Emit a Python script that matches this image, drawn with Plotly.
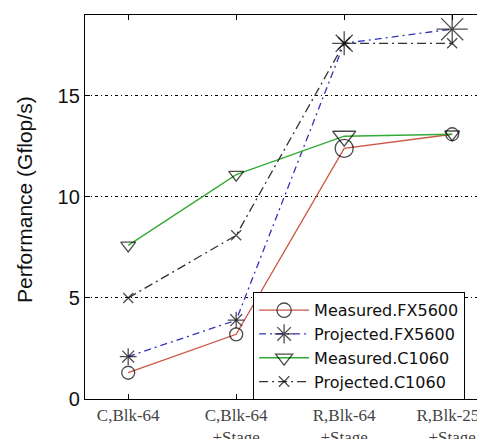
import plotly.graph_objects as go

categories = ["C,Blk-64", "C,Blk-64<br>+Stage", "R,Blk-64<br>+Stage", "R,Blk-256<br>+Stage"]
x_pos = [1, 2, 3, 4]
measured_fx5600 = [1.3, 3.2, 12.4, 13.1]
projected_fx5600 = [2.1, 3.9, 17.6, 18.3]
measured_c1060 = [7.6, 11.1, 13.0, 13.1]
projected_c1060 = [5.0, 8.1, 17.6, 17.6]

fig = go.Figure()

fig.add_trace(go.Scatter(
    x=x_pos, y=measured_fx5600, name="Measured.FX5600", mode="lines+markers",
    line=dict(color="#cc5544", width=1.3),
    marker=dict(symbol="circle-open", size=[13, 13, 18, 13], color="black",
                line=dict(color="black", width=1.3)),
))
fig.add_trace(go.Scatter(
    x=x_pos, y=projected_fx5600, name="Projected.FX5600", mode="lines+markers",
    line=dict(color="#3333bb", width=1.3, dash="7px,4px,2px,4px"),
    marker=dict(symbol="asterisk-open", size=[14, 14, 20, 26], color="black",
                line=dict(color="black", width=1.3)),
))
fig.add_trace(go.Scatter(
    x=x_pos, y=measured_c1060, name="Measured.C1060", mode="lines+markers",
    line=dict(color="#33aa33", width=1.3),
    marker=dict(symbol="triangle-down-open", size=[13, 13, 20, 13], color="black",
                line=dict(color="black", width=1.3)),
))
fig.add_trace(go.Scatter(
    x=x_pos, y=projected_c1060, name="Projected.C1060", mode="lines+markers",
    line=dict(color="#333333", width=1.3, dash="9px,4px,2px,4px"),
    marker=dict(symbol="x-thin-open", size=[10, 10, 12, 10], color="black",
                line=dict(color="black", width=1.3)),
))

fig.update_layout(
    width=485, height=439,
    margin=dict(l=77, r=0, t=7, b=36),
    paper_bgcolor="white", plot_bgcolor="white",
    showlegend=True,
    legend=dict(
        x=0.412, y=0.278, xanchor="left", yanchor="top",
        bordercolor="black", borderwidth=1, bgcolor="white",
        font=dict(family="DejaVu Sans, sans-serif", size=16, color="#111"),
        itemwidth=50, tracegroupgap=0,
    ),
    xaxis=dict(
        range=[0.6, 4.378], tickmode="array", tickvals=x_pos, ticktext=categories,
        showgrid=False, zeroline=False, showline=True, linecolor="black", linewidth=1.3,
        mirror="ticks", ticks="inside", ticklen=5, tickcolor="black",
        tickfont=dict(family="Liberation Serif, Times New Roman, serif", size=17, color="#444"),
    ),
    yaxis=dict(
        range=[0, 19], tickvals=[0, 5, 10, 15],
        showgrid=True, gridcolor="black", griddash="3px,3px,1px,3px", gridwidth=1,
        zeroline=False, showline=True, linecolor="black", linewidth=1.3,
        ticks="inside", ticklen=5, tickcolor="black",
        tickfont=dict(family="Liberation Sans, Arial, sans-serif", size=20, color="#111"),
    ),
    annotations=[dict(
        text="Performance (Gflop/s)", xref="paper", yref="paper",
        x=-0.148, y=0.52, xanchor="center", yanchor="middle", textangle=-90,
        showarrow=False,
        font=dict(family="Liberation Sans, Arial, sans-serif", size=21, color="#111"),
    )],
)

fig.write_html("out.html")
